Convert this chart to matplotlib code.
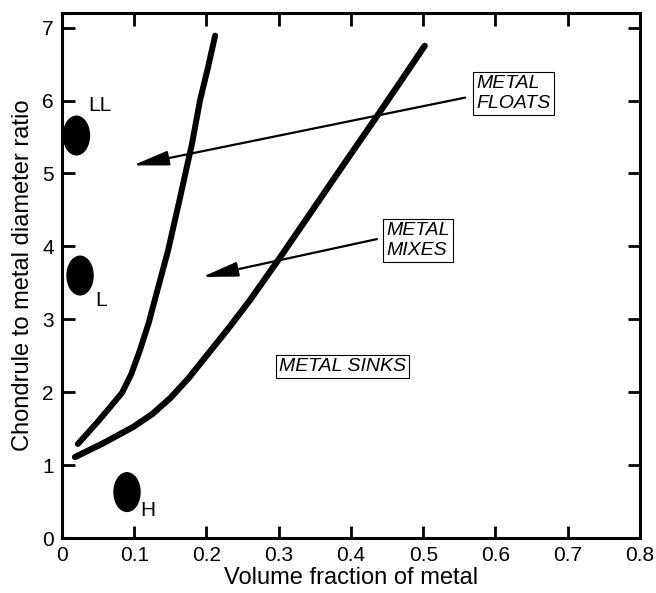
import matplotlib.pyplot as plt
from matplotlib.patches import Ellipse

plt.rcParams['font.family'] = ['Liberation Sans', 'DejaVu Sans']

# curve separating "metal floats" from "metal mixes"
float_x = [0.022, 0.05, 0.083, 0.096, 0.108, 0.12, 0.131, 0.147, 0.163, 0.18, 0.191, 0.202, 0.212]
float_y = [1.29, 1.6, 1.99, 2.25, 2.58, 2.95, 3.36, 3.95, 4.65, 5.41, 6.0, 6.45, 6.89]

# curve separating "metal mixes" from "metal sinks"
sink_x = [0.018, 0.057, 0.098, 0.125, 0.15, 0.175, 0.2, 0.23, 0.26, 0.302, 0.34, 0.371, 0.405, 0.437, 0.47, 0.502]
sink_y = [1.11, 1.3, 1.52, 1.7, 1.92, 2.19, 2.5, 2.87, 3.26, 3.85, 4.4, 4.85, 5.34, 5.8, 6.28, 6.75]

# chondrite groups
group_names = ['LL', 'L', 'H']
group_x = [0.02, 0.025, 0.09]
group_y = [5.52, 3.6, 0.63]
label_x = [0.036, 0.046, 0.109]
label_y = [5.93, 3.26, 0.38]

fig = plt.figure(figsize=(6.56, 5.93), dpi=100)
ax = fig.add_axes([0.0945, 0.0927, 0.881, 0.8853])

ax.plot(float_x, float_y, color='black', lw=4.3, solid_capstyle='round', solid_joinstyle='round')
ax.plot(sink_x, sink_y, color='black', lw=4.5, solid_capstyle='round', solid_joinstyle='round')

for name, x, y, lx, ly in zip(group_names, group_x, group_y, label_x, label_y):
    ax.add_patch(Ellipse((x, y), 0.036, 0.53, color='black'))
    ax.text(lx, ly, name, fontsize=15, va='center', ha='left')

arrow = dict(arrowstyle='-|>,head_length=2.2,head_width=0.45', color='black', lw=1.6,
             shrinkA=0, shrinkB=0, mutation_scale=10)
ax.annotate('', xy=(0.098, 5.11), xytext=(0.558, 6.04), arrowprops=arrow)
ax.annotate('', xy=(0.194, 3.58), xytext=(0.436, 4.1), arrowprops=arrow)

box = dict(boxstyle='square,pad=0.15', fc='white', ec='black', lw=0.8)
ax.text(0.625, 6.1, 'METAL\nFLOATS', fontsize=14, style='italic', ha='center', va='center',
        multialignment='left', bbox=box, linespacing=1.25)
ax.text(0.493, 4.08, 'METAL\nMIXES', fontsize=14, style='italic', ha='center', va='center',
        multialignment='left', bbox=box, linespacing=1.25)
ax.text(0.388, 2.35, 'METAL SINKS', fontsize=14, style='italic', ha='center', va='center',
        bbox=box)

ax.set_xlim(0, 0.8)
ax.set_ylim(0, 7.2)
ax.set_xticks([0, 0.1, 0.2, 0.3, 0.4, 0.5, 0.6, 0.7, 0.8])
ax.set_xticklabels(['0', '0.1', '0.2', '0.3', '0.4', '0.5', '0.6', '0.7', '0.8'])
ax.set_yticks(range(8))
ax.tick_params(direction='in', length=9, width=2, top=True, right=True, labelsize=15, pad=6)
for s in ax.spines.values():
    s.set_linewidth(2.2)

ax.set_xlabel('Volume fraction of metal', fontsize=17, labelpad=1)
ax.set_ylabel('Chondrule to metal diameter ratio', fontsize=17, labelpad=6)

fig.savefig('out.png', dpi=100)
